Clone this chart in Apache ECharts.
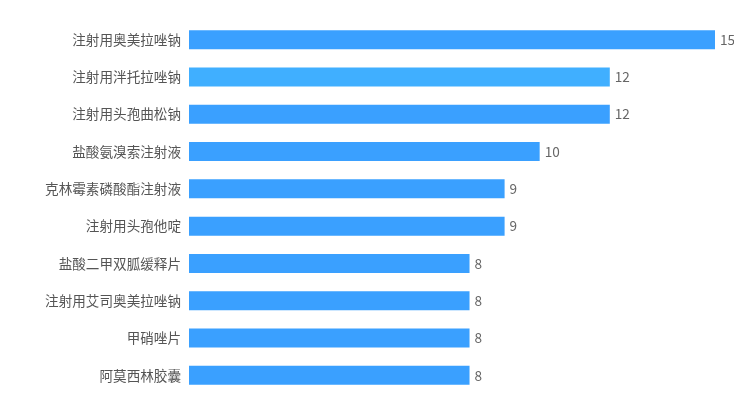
<!DOCTYPE html>
<html>
<head>
<meta charset="utf-8">
<script src="https://cdn.jsdelivr.net/npm/echarts@6/dist/echarts.min.js"></script>
<style>
  html, body { margin: 0; padding: 0; background: #fff; }
  #chart { width: 734px; height: 398px; }
</style>
</head>
<body>
<div id="chart"></div>
<script>
  // 药品名称（自上而下）
  var drugNames = ['注射用奥美拉唑钠', '注射用泮托拉唑钠', '注射用头孢曲松钠', '盐酸氨溴索注射液', '克林霉素磷酸酯注射液',
    '注射用头孢他啶', '盐酸二甲双胍缓释片', '注射用艾司奥美拉唑钠', '甲硝唑片', '阿莫西林胶囊']
  var drugCounts = [15, 12, 12, 10, 9, 9, 8, 8, 8, 8]
  var highlightIndex = 1

  var chart = echarts.init(document.getElementById('chart'))

  // y 轴 inverse，所以数组顺序即自上而下
  var barData = drugCounts.map(function (v, i) {
    if (i === highlightIndex) {
      return { value: v, itemStyle: { color: '#40AFFF' } }
    }
    return v
  })

  chart.setOption({
    animation: false,
    grid: {
      left: 189,
      right: 19,
      top: 21,
      bottom: 4
    },
    xAxis: {
      type: 'value',
      min: 0,
      max: 15,
      show: false
    },
    yAxis: {
      type: 'category',
      inverse: true,
      data: drugNames,
      axisLine: { show: false },
      axisTick: { show: false },
      splitLine: { show: false },
      axisLabel: {
        margin: 8,
        color: '#555',
        fontSize: 13.6,
        fontFamily: 'Noto Sans CJK SC'
      }
    },
    series: [{
      type: 'bar',
      data: barData,
      barWidth: 19,
      itemStyle: {
        color: '#3AA0FF'
      },
      label: {
        show: true,
        position: 'right',
        distance: 5,
        color: '#666',
        fontSize: 13.6,
        fontFamily: 'Noto Sans CJK SC'
      }
    }]
  })
</script>
</body>
</html>
